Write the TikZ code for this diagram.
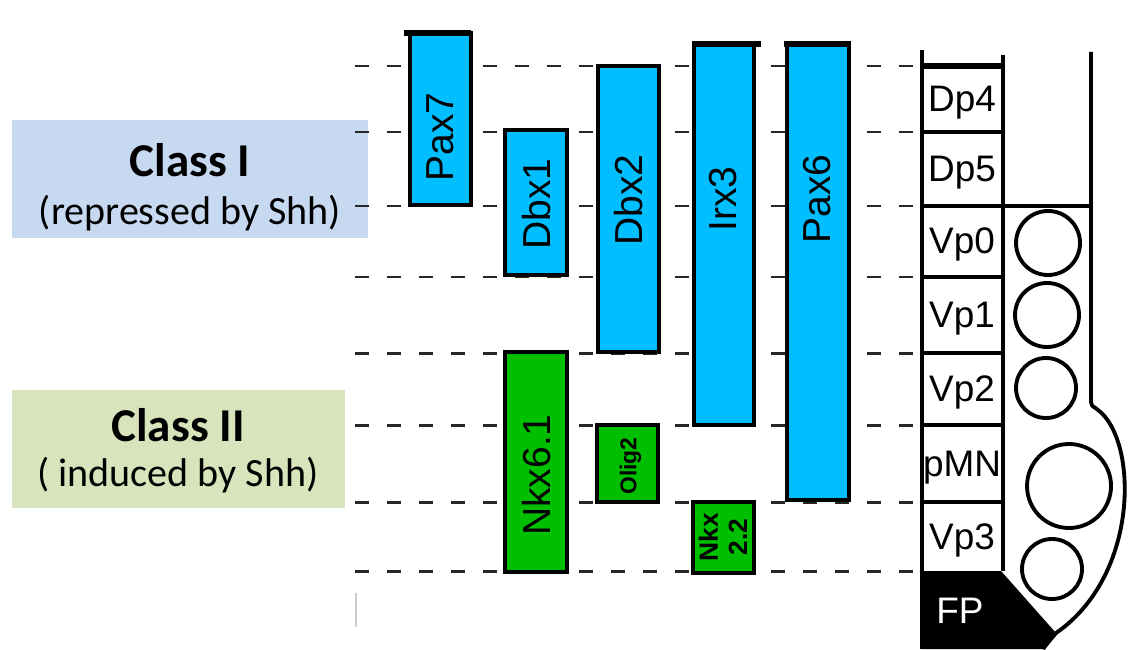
\documentclass[tikz,border=0pt]{standalone}
\usepackage{fontspec}
\setmainfont{Liberation Sans}
\newfontfamily\calib{Carlito}
\definecolor{barblue}{RGB}{0,190,255}
\definecolor{bargreen}{RGB}{0,190,0}
\definecolor{classone}{RGB}{198,217,240}
\definecolor{classtwo}{RGB}{216,228,188}

\begin{document}
\begin{tikzpicture}[x=0.1mm, y=-0.1mm,
	bar/.style={draw=black, line width=1.4pt},
	capline/.style={line width=1.9pt},
	gene/.style={rotate=90, inner sep=0pt, text depth=0pt, font=\fontsize{11.1}{13}\selectfont},
	level/.style={line width=0.85pt, black!85, dash pattern=on 1.4mm off 1.8mm},
	wall/.style={line width=1.1pt},
	zone/.style={inner sep=0pt, text depth=0pt, font=\fontsize{10.5}{13}\selectfont},
	classbox/.style={inner sep=0pt, minimum height=11.8mm}]
	\useasboundingbox (0,0) rectangle (1129,649);
	
	% 1. Class I / Class II boxes
	\node[classbox, fill=classone, minimum width=35.6mm] (classI) at (190,179) {};
	\node[font=\calib\bfseries\fontsize{13.4}{15}\selectfont] (classItitle) at (190,160) {Class I};
	\node[font=\calib\fontsize{11.4}{14}\selectfont] (classIsub) at (190,213) {(repressed by Shh)};
	\node[classbox, fill=classtwo, minimum width=33.3mm] (classII) at (178.5,448.5) {};
	\node[font=\calib\bfseries\fontsize{13.4}{15}\selectfont] (classIItitle) at (178,425) {Class II};
	\node[font=\calib\fontsize{11.4}{14}\selectfont] (classIIsub) at (178,475) {( induced by Shh)};
	
	% 2. dashed domain boundaries (under the bars)
	\foreach \y in {66,132,206,277,353,425,502,571}
		\draw[level] (355,\y) -- (922,\y);
	\draw[gray!40, line width=0.6pt] (356,593) -- (356,627);
	
	% 3. Class I bars
	\draw[bar, fill=barblue] (410,33) rectangle (471,205);
	\draw[capline] (404,33) -- (471,33);
	\draw[bar, fill=barblue] (505,130) rectangle (567,275);
	\draw[bar, fill=barblue] (598,66) rectangle (659,352);
	\draw[bar, fill=barblue] (694,44) rectangle (754,425);
	\draw[capline] (692,44) -- (761,44);
	\draw[bar, fill=barblue] (787,44) rectangle (849,500);
	\draw[capline] (784,44) -- (851,44);
	\node[gene] (pax7) at (440,137) {Pax7};
	\node[gene] (dbx1) at (536,204) {Dbx1};
	\node[gene] (dbx2) at (628,200) {Dbx2};
	\node[gene] (irx3) at (723,199) {Irx3};
	\node[gene] (pax6) at (817,199) {Pax6};
	
	% 4. Class II bars
	\draw[bar, fill=bargreen] (505,352) rectangle (567,572);
	\draw[bar, fill=bargreen] (597,425) rectangle (658,502);
	\draw[bar, fill=bargreen] (693,502) rectangle (754,573);
	\node[gene] (nkx61) at (536,475) {Nkx6.1};
	\node[gene, font=\bfseries\fontsize{6.5}{8}\selectfont] (olig2) at (628,466) {Olig2};
	\node[gene, align=center, font=\bfseries\fontsize{7.5}{8.3}\selectfont] (nkx22) at (723,537) {Nkx\\2.2};
	
	% 5. neural tube progenitor domains
	\fill (922,571) -- (1001,571) -- (1056,633) .. controls (1050,640) and (1046,645) .. (1043,649) -- (922,649) -- cycle;
	\draw[wall] (922,50) -- (922,649);
	\draw[wall] (1003,55) -- (1003,571);
	\draw[capline] (922,66) -- (1003,66);
	\foreach \y in {132,206,277,353,425,502}
		\draw[wall] (922,\y) -- (1003,\y);
	\draw[wall] (1003,206) -- (1092,206);
	\draw[wall] (1091,52) -- (1091,402) .. controls (1092,408) and (1094,406) .. (1098,410)
		.. controls (1138,440) and (1140,575) .. (1056,633) .. controls (1050,640) and (1046,645) .. (1043,649);
	\draw[wall] (1048,243) circle[radius=32];
	\draw[wall] (1047,315) circle[radius=32];
	\draw[wall] (1046,388) circle[radius=30];
	\draw[wall] (1069,486) circle[radius=42];
	\draw[wall] (1052,569) circle[radius=30];
	\node[zone] (dp4) at (962,99) {Dp4};
	\node[zone] (dp5) at (962,169) {Dp5};
	\node[zone] (vp0) at (962,241) {Vp0};
	\node[zone] (vp1) at (962,315) {Vp1};
	\node[zone] (vp2) at (962,389) {Vp2};
	\node[zone] (pmn) at (962,464) {pMN};
	\node[zone] (vp3) at (962,537) {Vp3};
	\node[zone, text=white] (fp) at (960,611) {FP};
\end{tikzpicture}
\end{document}
